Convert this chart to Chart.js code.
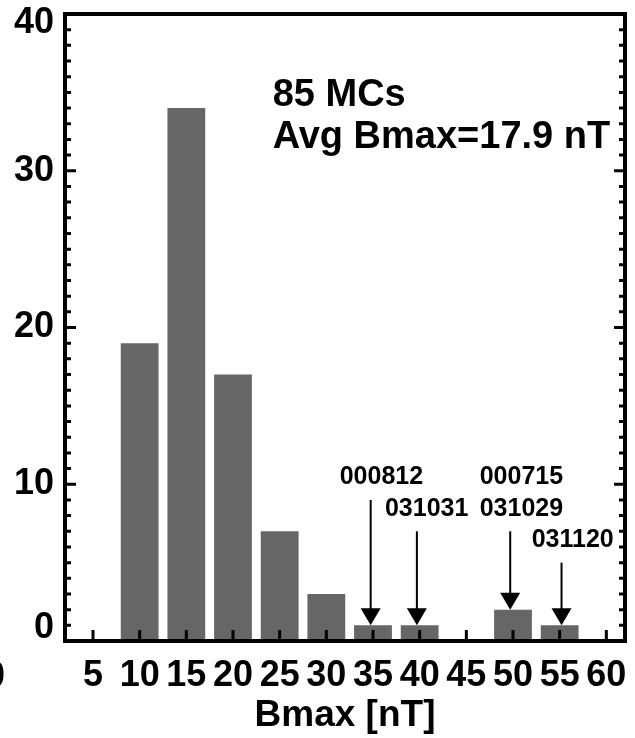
<!DOCTYPE html>
<html>
<head>
<meta charset="utf-8">
<script src="https://cdn.jsdelivr.net/npm/chart.js@4/dist/chart.umd.min.js"></script>
<style>
  html, body { margin: 0; padding: 0; background: #fff; }
  #wrap { width: 635px; height: 738px; }
</style>
</head>
<body>
<div id="wrap"><canvas id="chart" width="635" height="738"></canvas></div>
<script>
// --- Data ---
const binCenters = [10, 15, 20, 25, 30, 35, 40, 50, 55];
const counts = [19, 34, 17, 7, 3, 1, 1, 2, 1];
const xTicks = [5, 10, 15, 20, 25, 30, 35, 40, 45, 50, 55, 60];
const yTicks = [0, 10, 20, 30, 40];

// events marked with arrows (x in nT, arrow from/to in counts)
const arrowX = [34.75, 39.7, 49.7, 55.2];
const arrowFrom = [9, 7, 7, 5];
const arrowTo = [1, 1, 2, 1];
const eventNames = ["000812", "031031", "000715", "031029", "031120"];
const eventX = [35.9, 40.75, 50.9, 50.9, 56.4];
const eventY = [10, 8, 10, 8, 6];

const noteLines = ["85 MCs", "Avg Bmax=17.9 nT"];

const FONT = "'Liberation Sans', Arial, Helvetica, sans-serif";
const big = { family: FONT, size: 36, weight: 'bold' };

// --- Frame, ticks, arrows and notes ---
const overlay = {
  id: 'overlay',
  afterDatasetsDraw(chart) {
    const c = chart.ctx;
    const a = chart.chartArea;
    const xs = chart.scales.x, ys = chart.scales.y;
    c.save();
    c.strokeStyle = '#000';
    c.fillStyle = '#000';

    // ticks on left / right axes (one per count, longer every 10)
    c.lineWidth = 3;
    for (let v = 1; v < 40; v++) {
      let len = v % 10 === 0 ? 11 : 6;
      let y = ys.getPixelForValue(v);
      c.beginPath();
      c.moveTo(a.left, y); c.lineTo(a.left + len, y);
      c.moveTo(a.right, y); c.lineTo(a.right - len, y);
      c.stroke();
    }
    // ticks on bottom axis
    xTicks.forEach(v => {
      let x = xs.getPixelForValue(v);
      c.beginPath();
      c.moveTo(x, a.bottom); c.lineTo(x, a.bottom - 11);
      c.stroke();
    });

    // frame
    c.lineWidth = 4;
    c.strokeRect(a.left, a.top, a.right - a.left, a.bottom - a.top);

    // y tick labels, kept inside the frame height at both ends
    c.font = "bold 36px " + FONT;
    c.textAlign = 'right';
    c.textBaseline = 'middle';
    yTicks.forEach(v => {
      let y = Math.min(Math.max(ys.getPixelForValue(v), a.top + 9), a.bottom - 13);
      c.fillText(String(v), a.left - 11, y);
    });

    // arrows
    c.lineWidth = 2;
    arrowX.forEach((v, i) => {
      let x = xs.getPixelForValue(v);
      let y0 = ys.getPixelForValue(arrowFrom[i]);
      let y1 = ys.getPixelForValue(arrowTo[i]);
      c.beginPath();
      c.moveTo(x, y0); c.lineTo(x, y1 - 10);
      c.stroke();
      c.beginPath();
      c.moveTo(x, y1);
      c.lineTo(x - 10, y1 - 17);
      c.lineTo(x + 10, y1 - 17);
      c.closePath();
      c.fill();
    });

    // event labels
    c.font = "bold 25px " + FONT;
    c.textAlign = 'center';
    c.textBaseline = 'alphabetic';
    eventNames.forEach((t, i) => {
      c.fillText(t, xs.getPixelForValue(eventX[i]), ys.getPixelForValue(eventY[i]));
    });

    // summary note
    c.font = "bold 38px " + FONT;
    c.textAlign = 'left';
    c.fillText(noteLines[0], xs.getPixelForValue(24.25), ys.getPixelForValue(34.1));
    c.fillText(noteLines[1], xs.getPixelForValue(24.25), ys.getPixelForValue(31.45));

    // stray "0" label clipped at the left edge
    c.font = "bold 36px " + FONT;
    c.textAlign = 'right';
    c.textBaseline = 'middle';
    c.fillText("0", 5, 677);
    c.restore();
  }
};

new Chart(document.getElementById("chart").getContext("2d"), {
  type: 'bar',
  data: {
    datasets: [{
      data: binCenters.map((x, i) => ({ x: x, y: counts[i] })),
      backgroundColor: '#666666',
      borderWidth: 0,
      barPercentage: 0.81,
      categoryPercentage: 1
    }]
  },
  options: {
    responsive: false,
    animation: false,
    layout: { padding: { top: 14, right: 10, left: 0, bottom: 0 } },
    plugins: { legend: { display: false }, tooltip: { enabled: false } },
    scales: {
      x: {
        type: 'linear',
        min: 2,
        max: 62,
        offset: false,
        afterBuildTicks: s => { s.ticks = xTicks.map(v => ({ value: v })); },
        afterFit: s => { s.height = 97; s.paddingLeft = 0; s.paddingRight = 0; },
        grid: { display: false, drawTicks: false },
        border: { display: false },
        ticks: { font: big, color: '#000', padding: 13, autoSkip: false, maxRotation: 0, minRotation: 0 },
        title: { display: true, text: 'Bmax [nT]', font: { family: FONT, size: 37, weight: 'bold' }, color: '#000', padding: 0 }
      },
      y: {
        min: 0,
        max: 40,
        afterBuildTicks: s => { s.ticks = yTicks.map(v => ({ value: v })); },
        afterFit: s => { s.width = 65; s.paddingTop = 0; s.paddingBottom = 0; },
        grid: { display: false, drawTicks: false },
        border: { display: false },
        ticks: { display: false }
      }
    }
  },
  plugins: [overlay]
});
</script>
</body>
</html>
